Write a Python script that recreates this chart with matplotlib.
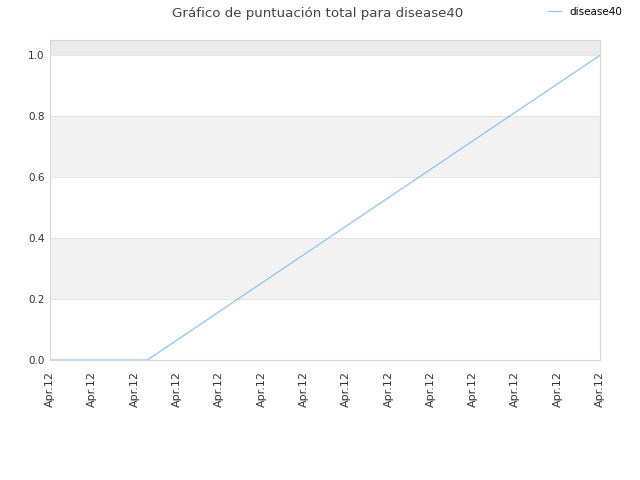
import matplotlib.pyplot as plt

# series data (x in tick units, 14 ticks all "Apr.12")
x_vals = [0, 2.3, 13]
scores = [0.0, 0.0, 1.0]
tick_labels = ['Apr.12'] * 14
series_name = 'disease40'

fig = plt.figure(figsize=(6.4, 4.8), dpi=100)
ax = fig.add_axes([50 / 640, 120 / 480, 550 / 640, 320 / 480])

# alternating background bands
ax.axhspan(0.2, 0.4, color='#f2f2f2', zorder=0, lw=0)
ax.axhspan(0.6, 0.8, color='#f2f2f2', zorder=0, lw=0)
ax.axhspan(1.0, 1.05, color='#ebebeb', zorder=0, lw=0)
for yv in [0.2, 0.4, 0.6, 0.8, 1.0]:
    ax.axhline(yv, color='#e0e0e0', lw=0.6, zorder=0.5)

ax.plot(x_vals, scores, color='#8fc3f7', lw=0.9, label=series_name, zorder=2)

ax.set_xlim(0, 13)
ax.set_ylim(0, 1.05)
ax.set_xticks(range(len(tick_labels)))
ax.set_xticklabels(tick_labels, rotation=90, fontsize=8, color='#333333')
ax.set_yticks([0.0, 0.2, 0.4, 0.6, 0.8, 1.0])
ax.set_yticklabels(['0.0', '0.2', '0.4', '0.6', '0.8', '1.0'], fontsize=7.5, color='#333333')
ax.tick_params(axis='x', length=0, pad=8)
ax.tick_params(axis='y', length=0, pad=4)
for s in ax.spines.values():
    s.set_color('#d8d8d8')
    s.set_linewidth(0.8)

fig.text(318 / 640, 1 - 13 / 480, 'Gráfico de puntuación total para disease40',
         ha='center', va='center', fontsize=9.6, color='#444444')
fig.legend(loc='center', bbox_to_anchor=(585 / 640, 1 - 12 / 480), frameon=False,
           fontsize=7.5, handlelength=1.2, handletextpad=0.8)

fig.savefig('out.png', dpi=100)
